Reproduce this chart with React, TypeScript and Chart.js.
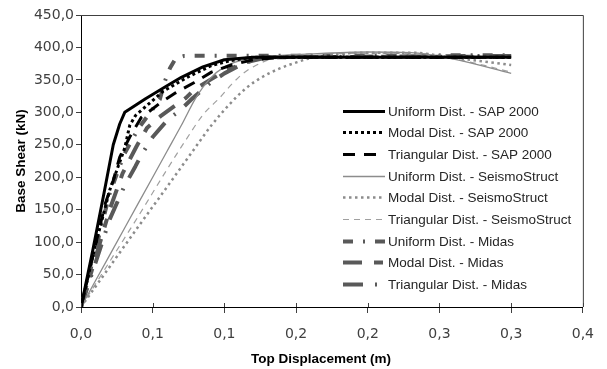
import { useEffect, useRef } from 'react';
import { Chart, registerables } from 'chart.js';

Chart.register(...registerables);

// ---- Data (Top displacement in m, base shear in kN) ----
const seriesLabels = [
  'Uniform Dist. - SAP 2000',
  'Modal Dist. - SAP 2000',
  'Triangular Dist. - SAP 2000',
  'Uniform Dist. - SeismoStruct',
  'Modal Dist. - SeismoStruct',
  'Triangular Dist. - SeismoStruct',
  'Uniform Dist. - Midas',
  'Modal Dist. - Midas',
  'Triangular Dist. - Midas',
];

const uniSapX = [0, 0.008, 0.016, 0.0225, 0.027, 0.0305, 0.045, 0.06, 0.07, 0.085, 0.1, 0.12, 0.3];
const uniSapY = [0, 85, 175, 250, 282, 300, 321, 341, 354, 370, 381, 385, 385];

const modSapX = [0, 0.01, 0.02, 0.0305, 0.034, 0.038, 0.057, 0.075, 0.091, 0.105, 0.12, 0.3];
const modSapY = [0, 95, 180, 245, 280, 295, 332, 355, 372, 380, 385, 385];

const triSapX = [0, 0.01, 0.017, 0.0225, 0.027, 0.034, 0.042, 0.055, 0.066, 0.079, 0.091, 0.105, 0.12, 0.14, 0.3];
const triSapY = [0, 95, 160, 195, 231, 262, 292, 314, 330, 346, 362, 373, 381, 385, 385];

const uniSeisX = [0, 0.02, 0.04, 0.06, 0.07, 0.08, 0.09, 0.1, 0.11, 0.13, 0.16, 0.2, 0.23, 0.26, 0.3];
const uniSeisY = [0, 80, 160, 240, 280, 322, 352, 370, 379, 386, 390, 393, 392, 382, 360];

const modSeisX = [0, 0.02, 0.04, 0.06, 0.0775, 0.091, 0.103, 0.115, 0.126, 0.139, 0.149, 0.159, 0.175, 0.2, 0.23, 0.26, 0.3];
const modSeisY = [0, 62, 124, 185, 239, 280, 311, 337, 354, 368, 376, 383, 389, 392, 392, 384, 373];

const triSeisX = [0, 0.02, 0.04, 0.06, 0.073, 0.085, 0.097, 0.105, 0.112, 0.12, 0.135, 0.16, 0.2, 0.24, 0.27, 0.3];
const triSeisY = [0, 70, 140, 212, 257, 296, 323, 343, 358, 370, 384, 390, 391, 389, 378, 362];

const uniMidasX = [0, 0.02, 0.03, 0.04, 0.05, 0.055, 0.058, 0.062, 0.066, 0.072, 0.3];
const uniMidasY = [0, 175, 235, 275, 305, 320, 345, 368, 383, 387, 388];

const modMidasX = [0, 0.02, 0.029, 0.0386, 0.046, 0.056, 0.073, 0.079, 0.09, 0.1, 0.115, 0.13, 0.3];
const modMidasY = [0, 150, 206, 247, 276, 295, 322, 335, 350, 363, 377, 385, 386];

const triMidasX = [0, 0.02, 0.03, 0.038, 0.042, 0.05, 0.061, 0.068, 0.078, 0.09, 0.1, 0.115, 0.13, 0.3];
const triMidasY = [0, 135, 185, 217, 234, 262, 290, 301, 322, 345, 360, 377, 385, 387];

const xMin = 0;
const xMax = 0.35;
const xStep = 0.05;
const yMin = 0;
const yMax = 450;
const yStep = 50;

const xTitle = 'Top Displacement (m)';
const yTitle = 'Base Shear (kN)';

const pts = (xs: number[], ys: number[]) => xs.map((x, i) => ({ x, y: ys[i] }));

const fmtComma = (v: number) => v.toFixed(1).replace('.', ',');

const BLACK = '#000000';
const MIDAS = '#595959';
const SEIS = '#8c8c8c';
const SEIS_LIGHT = '#a0a0a0';

const decorPlugin = {
  id: 'decor',
  afterDraw(chart: any) {
    const { ctx, chartArea, scales } = chart;
    const { left, right, top, bottom } = chartArea;
    ctx.save();
    // frame top & right
    ctx.strokeStyle = '#404040';
    ctx.lineWidth = 1;
    ctx.setLineDash([]);
    ctx.beginPath();
    ctx.moveTo(left, top + 0.5);
    ctx.lineTo(right + 0.5, top + 0.5);
    ctx.lineTo(right + 0.5, bottom);
    ctx.stroke();
    // upward part of x tick marks
    ctx.strokeStyle = '#404040';
    ctx.beginPath();
    scales.x.ticks.forEach((t: any) => {
      const px = Math.round(scales.x.getPixelForValue(t.value)) + 0.5;
      ctx.moveTo(px, bottom - 4);
      ctx.lineTo(px, bottom);
    });
    ctx.stroke();

    // axis titles
    ctx.fillStyle = '#000';
    ctx.font = 'bold 13.5px "Liberation Sans", Arial, sans-serif';
    ctx.textAlign = 'center';
    ctx.textBaseline = 'middle';
    ctx.fillText(xTitle, 321, 359);
    ctx.save();
    ctx.translate(21, 161);
    ctx.rotate(-Math.PI / 2);
    ctx.fillText(yTitle, 0, 0);
    ctx.restore();

    // legend inside plot
    const lx0 = 343;
    const lx1 = 385;
    const tx = 388;
    const y0 = 110.7;
    const dy = 21.66;
    ctx.font = '13.5px "Liberation Sans", Arial, sans-serif';
    ctx.textAlign = 'left';
    chart.data.datasets.forEach((ds: any, i: number) => {
      const y = Math.round(y0 + i * dy);
      ctx.save();
      ctx.strokeStyle = ds.borderColor;
      ctx.lineWidth = ds.borderWidth;
      ctx.setLineDash(ds.borderDash || []);
      ctx.lineCap = ds.borderCapStyle || 'butt';
      ctx.beginPath();
      ctx.moveTo(lx0, y + 0.5);
      ctx.lineTo(lx1, y + 0.5);
      ctx.stroke();
      ctx.restore();
      ctx.fillStyle = '#262626';
      ctx.fillText(ds.label, tx, y + 1);
    });
    ctx.restore();
  },
};

export default function App() {
  const canvasRef = useRef<HTMLCanvasElement | null>(null);

  useEffect(() => {
    const canvas = canvasRef.current;
    if (!canvas) return;
    const mk = (i: number, xs: number[], ys: number[], color: string, width: number, dash: number[], smooth: boolean) => ({
      label: seriesLabels[i],
      data: pts(xs, ys),
      borderColor: color,
      backgroundColor: color,
      borderWidth: width,
      borderDash: dash,
      borderCapStyle: 'butt',
      borderJoinStyle: 'round',
      pointRadius: 0,
      pointHoverRadius: 0,
      fill: false,
      tension: 0,
      cubicInterpolationMode: smooth ? 'monotone' : 'default',
    });
    const chart = new Chart(canvas, {
      type: 'line',
      data: {
        datasets: [
          mk(0, uniSapX, uniSapY, BLACK, 3, [], false),
          mk(1, modSapX, modSapY, BLACK, 3, [3, 3], false),
          mk(2, triSapX, triSapY, BLACK, 3, [12, 9], false),
          mk(3, uniSeisX, uniSeisY, SEIS, 1.3, [], true),
          mk(4, modSeisX, modSeisY, SEIS, 2.5, [2.5, 3.5], true),
          mk(5, triSeisX, triSeisY, SEIS_LIGHT, 1.2, [6, 5], true),
          mk(6, uniMidasX, uniMidasY, MIDAS, 4, [10, 10, 2, 10], false),
          mk(7, modMidasX, modMidasY, MIDAS, 4, [19, 12, 9, 12], false),
          mk(8, triMidasX, triMidasY, MIDAS, 4, [20, 12, 2, 12], false),
        ] as any,
      },
      options: {
        responsive: false,
        animation: false,
        devicePixelRatio: 1,
        layout: { padding: { left: 0, top: 15, right: 18, bottom: 0 } },
        plugins: {
          legend: { display: false },
          tooltip: { enabled: false },
          title: { display: false },
        },
        scales: {
          x: {
            type: 'linear',
            min: xMin,
            max: xMax,
            afterFit: (s: any) => { s.height = 62; },
            ticks: {
              stepSize: xStep,
              color: '#404040',
              padding: 13,
              maxRotation: 0,
              font: { family: '"DejaVu Sans", sans-serif', size: 14 },
              callback: (v: any) => fmtComma(Math.round(Number(v) * 10 + 1e-9) / 10),
            },
            grid: { drawOnChartArea: false, drawTicks: true, tickLength: 6, color: '#404040' },
            border: { display: true, color: '#000', width: 1 },
          },
          y: {
            type: 'linear',
            min: yMin,
            max: yMax,
            afterFit: (s: any) => { s.width = 81; },
            ticks: {
              stepSize: yStep,
              color: '#404040',
              padding: 2,
              font: { family: '"DejaVu Sans", sans-serif', size: 14 },
              callback: (v: any) => fmtComma(Number(v)),
            },
            grid: { drawOnChartArea: false, drawTicks: true, tickLength: 5, color: '#404040' },
            border: { display: true, color: '#000', width: 1 },
          },
        },
      } as any,
      plugins: [decorPlugin],
    });
    return () => chart.destroy();
  }, []);

  return (
    <div style={{ position: 'fixed', left: 0, top: 0, width: 607, height: 369, background: '#fff' }}>
      <canvas ref={canvasRef} width={607} height={369} style={{ display: 'block' }} />
    </div>
  );
}
